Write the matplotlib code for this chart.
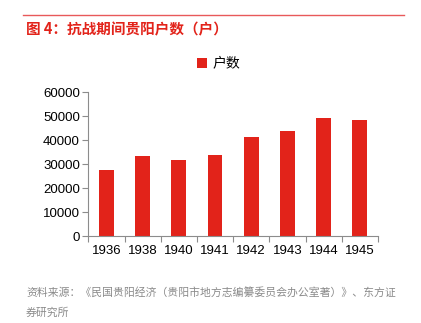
import matplotlib
matplotlib.use('Agg')
import matplotlib.pyplot as plt
from matplotlib.lines import Line2D

plt.rcParams['font.family'] = ['Liberation Sans', 'Noto Sans CJK SC', 'DejaVu Sans']

years = ['1936', '1938', '1940', '1941', '1942', '1943', '1944', '1945']
households = [27500, 33300, 31900, 33700, 41250, 43900, 49300, 48500]
yticks = [0, 10000, 20000, 30000, 40000, 50000, 60000]

red = '#E2231A'
axis_gray = '#8C8C8C'
cjk = ['Noto Sans CJK SC', 'DejaVu Sans']

fig = plt.figure(figsize=(4.21, 3.23), dpi=100)
ax = fig.add_axes([0.2097, 0.2684, 0.6882, 0.4458])

x = range(len(years))
ax.bar(x, households, width=0.41, color=red, label='户数')
ax.set_xlim(-0.5, len(years) - 0.5)
ax.set_ylim(0, 60000)
ax.set_yticks(yticks)
ax.set_yticklabels([str(v) for v in yticks], fontsize=9.5)

# x ticks at category boundaries, labels centred under bars
ax.set_xticks([i - 0.5 for i in range(len(years) + 1)])
ax.set_xticklabels([])
ax.set_xticks(list(x), minor=True)
ax.set_xticklabels(years, minor=True, fontsize=9.5)
ax.tick_params(axis='x', which='minor', length=0, pad=6)
ax.tick_params(axis='x', which='major', length=4, color=axis_gray)
ax.tick_params(axis='y', length=4, color=axis_gray, pad=2)

for side in ['top', 'right']:
    ax.spines[side].set_visible(False)
for side in ['left', 'bottom']:
    ax.spines[side].set_color(axis_gray)
    ax.spines[side].set_linewidth(0.8)

leg = ax.legend(loc='center', bbox_to_anchor=(0.45, 1.2), frameon=False,
                handlelength=0.7, handleheight=0.7, handletextpad=0.4,
                prop={'family': cjk, 'size': 10})

# header rule and title
fig.add_artist(Line2D([23 / 421, 404 / 421], [1 - 15 / 323, 1 - 15 / 323],
                      color='#E8595A', linewidth=1.0))
fig.text(26 / 421, 1 - 29 / 323, '图 4：抗战期间贵阳户数（户）', color=red,
         fontsize=10.5, fontweight='bold', family=cjk, va='center', ha='left')

# source note
fig.text(26 / 421, 1 - 293 / 323,
         '资料来源：《民国贵阳经济（贵阳市地方志编纂委员会办公室著）》、东方证',
         color='#8A8A8A', fontsize=7.8, family=cjk, va='center', ha='left')
fig.text(26 / 421, 1 - 313 / 323, '券研究所',
         color='#8A8A8A', fontsize=7.8, family=cjk, va='center', ha='left')

fig.savefig('out.png', dpi=100)
